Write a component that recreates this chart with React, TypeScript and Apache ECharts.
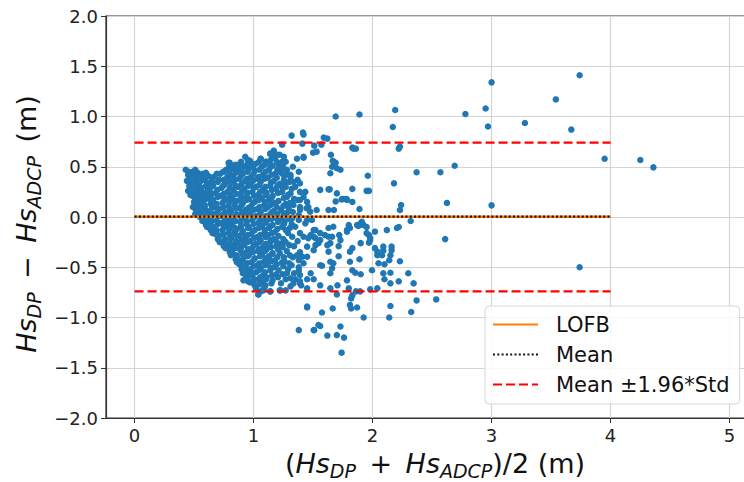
import React, { useEffect, useRef } from "react";
import * as echarts from "echarts";

const meanDiff = 0.003;
const upperLoA = 0.74;
const lowerLoA = -0.74;
const lineStartX = 0;
const lineEndX = 4;

const xTicks = [0, 1, 2, 3, 4, 5];
const legendNames = ["LOFB", "Mean", "Mean \u00b11.96*Std"];

const coreA: number[][] = [
  [0.43, 0.47], [0.45, 0.42], [0.44, 0.36], [0.46, 0.31], [0.45, 0.26], [0.47, 0.44],
  [0.49, 0.45], [0.48, 0.39], [0.5, 0.33], [0.48, 0.27], [0.49, 0.21], [0.5, 0.15], [0.49, 0.1],
  [0.53, 0.44], [0.52, 0.38], [0.54, 0.31], [0.53, 0.24], [0.52, 0.18], [0.54, 0.12], [0.53, 0.06], [0.55, 0.0], [0.51, 0.03],
  [0.57, 0.43], [0.58, 0.37], [0.56, 0.29], [0.58, 0.22], [0.57, 0.16], [0.59, 0.09], [0.56, 0.04], [0.58, -0.03], [0.6, -0.08],
  [0.62, 0.41], [0.61, 0.34], [0.63, 0.27], [0.62, 0.2], [0.64, 0.13], [0.61, 0.06], [0.63, 0.0], [0.62, -0.07], [0.64, -0.13], [0.65, 0.35],
  [0.67, 0.4], [0.66, 0.31], [0.68, 0.24], [0.66, 0.17], [0.68, 0.1], [0.67, 0.03], [0.69, -0.04], [0.66, -0.1], [0.68, -0.17], [0.7, -0.22],
];

const fillA: number[][] = [
  [0.455, 0.45], [0.46, 0.39], [0.47, 0.33], [0.465, 0.28], [0.47, 0.22],
  [0.51, 0.47], [0.515, 0.41], [0.51, 0.35], [0.52, 0.29], [0.51, 0.23], [0.515, 0.17], [0.52, 0.11], [0.515, 0.07],
  [0.555, 0.41], [0.55, 0.35], [0.56, 0.26], [0.555, 0.2], [0.55, 0.14], [0.56, 0.08], [0.57, 0.02], [0.57, -0.04],
  [0.6, 0.44], [0.595, 0.39], [0.6, 0.31], [0.605, 0.25], [0.6, 0.18], [0.59, 0.12], [0.6, 0.03], [0.605, -0.02], [0.61, -0.1],
  [0.645, 0.39], [0.64, 0.3], [0.65, 0.23], [0.645, 0.16], [0.65, 0.09], [0.64, 0.03], [0.65, -0.04], [0.645, -0.09], [0.655, -0.16],
  [0.69, 0.43], [0.7, 0.35], [0.695, 0.27], [0.7, 0.2], [0.69, 0.13], [0.7, 0.06], [0.695, 0.0], [0.7, -0.07], [0.69, -0.13], [0.7, -0.18], [0.715, -0.25],
];

const coreB: number[][] = [
  [0.72, 0.43], [0.71, 0.37], [0.73, 0.29], [0.72, 0.21], [0.74, 0.14], [0.71, 0.08], [0.73, 0.01], [0.72, -0.06], [0.74, -0.13], [0.71, -0.19], [0.73, -0.25], [0.75, -0.29],
  [0.77, 0.47], [0.78, 0.4], [0.76, 0.33], [0.78, 0.25], [0.77, 0.18], [0.79, 0.11], [0.76, 0.05], [0.78, -0.02], [0.77, -0.09], [0.79, -0.16], [0.76, -0.22], [0.78, -0.29], [0.8, -0.35],
  [0.8, 0.54], [0.82, 0.48], [0.83, 0.41], [0.81, 0.34], [0.83, 0.27], [0.82, 0.19], [0.84, 0.12], [0.81, 0.06], [0.83, -0.01], [0.82, -0.08], [0.84, -0.15], [0.81, -0.21], [0.83, -0.28], [0.82, -0.35], [0.85, -0.42],
  [0.87, 0.52], [0.86, 0.45], [0.88, 0.38], [0.87, 0.3], [0.89, 0.23], [0.86, 0.16], [0.88, 0.09], [0.87, 0.02], [0.89, -0.05], [0.86, -0.12], [0.88, -0.19], [0.87, -0.26], [0.89, -0.33], [0.86, -0.4], [0.88, -0.47], [0.9, -0.52],
  [0.93, 0.6], [0.92, 0.5], [0.91, 0.43], [0.93, 0.36], [0.92, 0.28], [0.94, 0.21], [0.91, 0.14], [0.93, 0.07], [0.92, 0.0], [0.94, -0.07], [0.91, -0.14], [0.93, -0.21], [0.92, -0.28], [0.94, -0.35], [0.91, -0.42], [0.93, -0.49], [0.92, -0.56], [0.94, -0.61],
];

const fillB: number[][] = [
  [0.745, 0.45], [0.75, 0.37], [0.745, 0.31], [0.75, 0.23], [0.755, 0.17], [0.745, 0.1], [0.75, 0.03], [0.755, -0.04], [0.75, -0.1], [0.745, -0.17], [0.75, -0.24], [0.765, -0.31],
  [0.795, 0.5], [0.8, 0.43], [0.795, 0.37], [0.8, 0.29], [0.805, 0.22], [0.795, 0.15], [0.8, 0.08], [0.805, 0.02], [0.8, -0.05], [0.795, -0.12], [0.805, -0.19], [0.8, -0.26], [0.795, -0.32], [0.81, -0.38],
  [0.845, 0.5], [0.85, 0.44], [0.845, 0.37], [0.85, 0.31], [0.855, 0.23], [0.845, 0.16], [0.85, 0.09], [0.855, 0.03], [0.85, -0.04], [0.845, -0.11], [0.855, -0.18], [0.85, -0.24], [0.845, -0.31], [0.855, -0.38], [0.86, -0.45],
  [0.895, 0.55], [0.9, 0.47], [0.895, 0.41], [0.9, 0.33], [0.905, 0.26], [0.895, 0.19], [0.9, 0.12], [0.905, 0.05], [0.9, -0.02], [0.895, -0.09], [0.905, -0.16], [0.9, -0.23], [0.895, -0.3], [0.905, -0.37], [0.9, -0.44], [0.905, -0.5], [0.91, -0.56],
  [0.95, 0.57], [0.945, 0.52], [0.95, 0.45], [0.945, 0.38], [0.955, 0.31], [0.95, 0.24], [0.945, 0.17], [0.955, 0.09], [0.95, 0.02], [0.945, -0.04], [0.955, -0.11], [0.95, -0.18], [0.945, -0.25], [0.955, -0.32], [0.95, -0.39], [0.945, -0.46], [0.955, -0.53], [0.95, -0.58], [0.955, -0.64],
];

const coreC: number[][] = [
  [0.97, 0.56], [0.96, 0.48], [0.98, 0.4], [0.97, 0.33], [0.99, 0.25], [0.96, 0.18], [0.98, 0.11], [0.97, 0.04], [0.99, -0.03], [0.96, -0.1], [0.98, -0.17], [0.97, -0.24], [0.99, -0.31], [0.96, -0.38], [0.98, -0.45], [0.97, -0.52], [0.99, -0.59], [0.97, -0.65],
  [1.02, 0.53], [1.01, 0.46], [1.03, 0.38], [1.02, 0.3], [1.04, 0.22], [1.01, 0.15], [1.03, 0.08], [1.02, 0.01], [1.04, -0.06], [1.01, -0.13], [1.03, -0.2], [1.02, -0.27], [1.04, -0.34], [1.01, -0.41], [1.03, -0.48], [1.02, -0.55], [1.04, -0.62], [1.01, -0.68], [1.04, -0.77],
  [1.06, 0.58], [1.07, 0.5], [1.08, 0.42], [1.06, 0.35], [1.08, 0.27], [1.07, 0.19], [1.09, 0.12], [1.06, 0.05], [1.08, -0.02], [1.07, -0.09], [1.09, -0.16], [1.06, -0.23], [1.08, -0.3], [1.07, -0.37], [1.09, -0.44], [1.06, -0.51], [1.08, -0.58], [1.07, -0.65], [1.09, -0.71],
  [1.14, 0.63], [1.11, 0.55], [1.13, 0.47], [1.12, 0.39], [1.14, 0.31], [1.11, 0.24], [1.13, 0.17], [1.12, 0.1], [1.14, 0.03], [1.11, -0.04], [1.13, -0.11], [1.12, -0.18], [1.14, -0.25], [1.11, -0.32], [1.13, -0.39], [1.12, -0.46], [1.14, -0.53], [1.11, -0.6], [1.14, -0.74],
];

const fillC: number[][] = [
  [0.995, 0.5], [1.0, 0.43], [0.995, 0.36], [1.0, 0.29], [1.005, 0.21], [0.995, 0.14], [1.0, 0.07], [1.005, 0.0], [1.0, -0.07], [0.995, -0.14], [1.005, -0.21], [1.0, -0.28], [0.995, -0.35], [1.005, -0.42], [1.0, -0.49], [0.995, -0.56], [1.005, -0.62], [1.02, -0.71],
  [1.045, 0.55], [1.05, 0.47], [1.045, 0.4], [1.05, 0.32], [1.055, 0.25], [1.045, 0.17], [1.05, 0.1], [1.055, 0.03], [1.05, -0.04], [1.045, -0.11], [1.055, -0.18], [1.05, -0.25], [1.045, -0.32], [1.055, -0.39], [1.05, -0.46], [1.045, -0.53], [1.055, -0.6], [1.05, -0.67], [1.06, -0.74],
  [1.095, 0.52], [1.1, 0.45], [1.095, 0.38], [1.1, 0.3], [1.105, 0.22], [1.095, 0.15], [1.1, 0.08], [1.105, 0.01], [1.1, -0.06], [1.095, -0.13], [1.105, -0.2], [1.1, -0.27], [1.095, -0.34], [1.105, -0.41], [1.1, -0.48], [1.095, -0.55], [1.105, -0.62], [1.1, -0.68],
  [1.15, 0.58], [1.145, 0.5], [1.15, 0.42], [1.145, 0.34], [1.155, 0.27], [1.15, 0.19], [1.145, 0.12], [1.155, 0.05], [1.15, -0.02], [1.145, -0.09], [1.155, -0.16], [1.15, -0.23], [1.145, -0.3], [1.155, -0.37], [1.15, -0.44], [1.145, -0.51], [1.155, -0.58], [1.15, -0.66],
];

const coreD: number[][] = [
  [1.17, 0.66], [1.18, 0.59], [1.16, 0.51], [1.18, 0.43], [1.17, 0.36], [1.19, 0.28], [1.16, 0.21], [1.18, 0.14], [1.17, 0.06], [1.19, -0.01], [1.16, -0.08], [1.18, -0.15], [1.17, -0.22], [1.19, -0.29], [1.16, -0.36], [1.18, -0.43], [1.17, -0.5], [1.19, -0.57], [1.16, -0.63],
  [1.22, 0.62], [1.21, 0.52], [1.23, 0.44], [1.22, 0.33], [1.24, 0.25], [1.21, 0.16], [1.23, 0.07], [1.22, -0.02], [1.24, -0.1], [1.21, -0.19], [1.23, -0.27], [1.22, -0.36], [1.24, -0.45], [1.21, -0.53], [1.23, -0.66], [1.22, -0.73],
  [1.27, 0.55], [1.28, 0.42], [1.26, 0.34], [1.29, 0.22], [1.27, 0.13], [1.28, 0.04], [1.26, -0.05], [1.29, -0.16], [1.27, -0.25], [1.28, -0.34], [1.26, -0.44], [1.29, -0.52], [1.27, -0.62],
  [1.33, 0.5], [1.32, 0.28], [1.34, 0.18], [1.33, 0.05], [1.32, -0.07], [1.34, -0.29], [1.33, -0.4], [1.32, -0.48], [1.35, -0.62],
  [1.38, 0.45], [1.37, 0.37], [1.39, 0.1], [1.38, -0.03], [1.37, -0.24], [1.39, -0.35], [1.38, -0.5],
];

const fillD: number[][] = [
  [1.195, 0.55], [1.2, 0.47], [1.195, 0.39], [1.2, 0.31], [1.205, 0.24], [1.195, 0.1], [1.2, 0.03], [1.205, -0.05], [1.2, -0.12], [1.195, -0.25], [1.205, -0.32], [1.2, -0.4], [1.195, -0.47], [1.205, -0.6],
  [1.25, 0.42], [1.245, 0.29], [1.255, 0.19], [1.25, 0.11], [1.245, -0.01], [1.255, -0.07], [1.25, -0.22], [1.245, -0.3], [1.255, -0.4], [1.25, -0.49], [1.245, -0.57],
  [1.3, 0.35], [1.305, 0.14], [1.3, -0.02], [1.305, -0.11], [1.3, -0.28], [1.305, -0.38], [1.3, -0.46], [1.31, -0.69],
];

const midScatter: number[][] = [
  [1.32, 0.81], [1.415, 0.84], [1.42, 0.82], [1.59, 0.79], [1.62, 0.78], [1.51, 0.71], [1.57, 0.72], [1.24, 0.72], [1.41, 0.73], [1.83, 0.69], [1.86, 0.68],
  [1.5, 0.64], [1.53, 0.65], [1.65, 0.62], [1.42, 0.59], [1.665, 0.56], [1.69, 0.54], [1.96, 0.41], [1.95, 0.26], [1.97, 0.26], [1.83, 0.28], [1.75, 0.18],
  [1.78, 0.18], [1.83, 0.15], [1.89, 0.08], [1.7, 0.235], [1.56, 0.27], [1.64, 0.275], [1.69, 0.155],
  [1.675, 0.55], [1.7, 0.485], [1.73, 0.47], [1.66, 0.5], [1.645, 0.435], [1.17, 0.63], [1.2, 0.62], [1.1, 0.55], [1.135, 0.55], [1.24, 0.55],
  [0.846, 0.52], [0.89, 0.485], [1.25, 0.485], [1.31, 0.42], [1.365, 0.58], [1.42, 0.6], [1.25, 0.53], [1.06, 0.58], [0.99, 0.53], [0.875, 0.52], [0.79, 0.54], [0.75, 0.45], [1.14, 0.63],
  [1.255, 0.6], [1.24, 0.5], [1.28, 0.47], [1.31, 0.4], [1.255, 0.37], [1.335, 0.35], [1.27, 0.3], [1.35, 0.3], [1.31, 0.235], [1.39, 0.25], [1.42, 0.2], [1.28, 0.2],
  [1.365, 0.17], [1.45, 0.15], [1.335, 0.12], [1.46, 0.1], [1.295, 0.087], [1.39, 0.07], [1.255, 0.037], [1.475, 0.053], [1.38, 0.02], [1.325, -0.013], [1.49, -0.03],
  [1.435, -0.063], [1.35, -0.097], [1.27, -0.13], [1.39, -0.16], [1.52, -0.13], [1.325, -0.196], [1.46, -0.21],
  [1.39, 0.335], [1.435, 0.25], [1.63, 0.275], [1.74, 0.175], [1.785, 0.17], [1.39, 0.17], [1.445, 0.087], [1.53, 0.07], [1.63, 0.07], [1.675, 0.07],
  [1.45, -0.03], [1.505, -0.13], [1.48, -0.18], [1.42, -0.196], [1.52, -0.21], [1.545, -0.26], [1.67, -0.097], [1.63, -0.11], [1.66, -0.196], [1.6, -0.18], [1.62, -0.28],
  [1.785, -0.13], [1.95, -0.16], [1.98, -0.21], [1.97, -0.255], [1.87, -0.08], [1.9, -0.063], [1.925, -0.08], [1.83, -0.31],
];

const rightScatter: number[][] = [
  [1.69, 1.0], [1.89, 1.02], [2.19, 1.065], [2.17, 0.895], [2.22, 0.68], [2.23, 0.7], [1.84, 0.68], [2.37, 0.445], [2.57, 0.445], [2.69, 0.51], [2.18, 0.335],
  [2.24, 0.12], [2.23, 0.07], [2.32, -0.04], [2.625, 0.14], [2.12, -0.13], [2.205, -0.11], [2.02, -0.146], [1.95, -0.1], [1.88, -0.09], [1.785, -0.146], [2.61, -0.22],
];

const farPoints: number[][] = [
  [2.78, 1.025], [3.0, 1.34], [2.95, 1.08], [2.97, 0.9], [3.28, 0.935], [3.54, 1.17], [3.74, 1.41], [3.67, 0.87], [3.95, 0.58], [4.25, 0.567], [4.36, 0.494], [3.0, 0.116], [3.74, -0.5],
];

const lowerScatter: number[][] = [
  [2.22, -0.1], [1.97, -0.18], [1.98, -0.23], [1.9, -0.26], [1.81, -0.345], [1.89, -0.42], [2.02, -0.31], [2.04, -0.345], [2.04, -0.38], [2.08, -0.38], [2.09, -0.335],
  [2.15, -0.38], [2.16, -0.33], [2.14, -0.43], [2.1, -0.47], [2.05, -0.46], [2.23, -0.44], [1.995, -0.53], [2.09, -0.56], [2.15, -0.555], [2.1, -0.62], [2.15, -0.66],
  [2.22, -0.64], [2.3, -0.56], [2.345, -0.66], [2.37, -0.83], [2.535, -0.82], [2.325, -0.945], [2.15, -0.885], [2.14, -1.0], [2.04, -0.71], [1.98, -0.72], [1.925, -1.0],
  [1.87, -0.9], [1.82, -0.91], [1.81, -0.875], [1.895, -0.74], [1.86, -0.74], [1.8, -0.71], [1.7, -0.77], [1.82, -0.81], [1.83, -0.78], [1.73, -1.09], [1.7, -1.175],
  [1.76, -1.2], [1.62, -1.18], [1.56, -1.085], [1.51, -1.125], [1.38, -1.125], [1.74, -1.35], [1.665, -0.91], [1.575, -0.95], [1.45, -0.9], [1.785, -0.63], [1.705, -0.68],
  [1.645, -0.71], [1.56, -0.68], [1.645, -0.56], [1.66, -0.51], [1.67, -0.46], [1.645, -0.445], [1.715, -0.39], [1.81, -0.445], [1.83, -0.53], [1.855, -0.555], [1.9, -0.57],
  [1.56, -0.48], [1.575, -0.485], [1.48, -0.56], [1.505, -0.62], [1.45, -0.62], [1.4, -0.68], [1.39, -0.66], [1.63, -0.345], [1.645, -0.26], [1.63, -0.196], [1.715, -0.29],
  [1.73, -0.23], [1.72, -0.18], [1.81, -0.11], [1.8, -0.08], [1.895, -0.08], [1.91, -0.047], [1.56, -0.16], [1.505, -0.196], [1.56, -0.23], [1.52, -0.28], [1.505, -0.33],
  [1.45, -0.295], [1.45, -0.395], [1.42, -0.46], [1.38, -0.43], [1.34, -0.56], [1.31, -0.61], [1.28, -0.56], [1.38, -0.53], [1.39, -0.577], [1.04, -0.77], [0.915, -0.63],
  [0.94, -0.6], [1.0, -0.66], [1.45, -0.89], [1.14, -0.74], [1.225, -0.73], [1.08, -0.73], [1.335, -0.66], [1.39, -0.64], [1.45, -0.71], [1.365, -0.38], [1.41, -0.395],
  [1.505, -1.125], [1.545, -1.075], [1.27, -0.73], [2.09, -0.295], [2.16, -0.295],
];

const FONT = "DejaVu Sans";

export default function App() {
  const ref = useRef<HTMLDivElement>(null);
  useEffect(() => {
    document.body.style.margin = "0";
    const chart = echarts.init(ref.current!, null, { renderer: "svg" });
    const points = [
      ...coreA, ...fillA, ...coreB, ...fillB, ...coreC, ...fillC, ...coreD, ...fillD,
      ...midScatter, ...rightScatter, ...farPoints, ...lowerScatter,
    ];
    const titleRich = {
      i: { fontStyle: "italic", fontSize: 27, fontFamily: FONT, color: "#111", lineHeight: 34 },
      s: { fontStyle: "italic", fontSize: 19, fontFamily: FONT, color: "#111", lineHeight: 26, verticalAlign: "bottom" },
    };
    chart.setOption({
      animation: false,
      backgroundColor: "#ffffff",
      grid: {
        left: 106, top: 16, right: -2, bottom: 64,
        outerBoundsMode: "none",
        containLabel: false,
        show: true, borderColor: "#333", borderWidth: 1.2,
      },
      legend: {
        data: legendNames,
        orient: "vertical",
        left: 485,
        top: 306,
        padding: [8, 10, 9, 7],
        itemWidth: 45,
        itemHeight: 14,
        itemGap: 9,
        backgroundColor: "rgba(255,255,255,0.85)",
        borderColor: "#d6d6d6",
        borderWidth: 1,
        borderRadius: 4,
        itemStyle: { opacity: 0 },
        textStyle: { fontFamily: FONT, fontSize: 21, color: "#111", padding: [0, 0, 0, 13] },
      },
      xAxis: {
        type: "value",
        min: -0.24,
        max: 5.138,
        name: "({i|Hs}{s|DP}\u2002+\u2002{i|Hs}{s|ADCP})/2 (m)",
        nameLocation: "middle",
        nameGap: 28,
        nameMoveOverlap: false,
        nameTextStyle: { fontFamily: FONT, fontSize: 27, color: "#111", lineHeight: 34, padding: [0, 0, 0, 18], rich: titleRich },
        axisLine: { show: true, onZero: false, lineStyle: { color: "#333", width: 1.2 } },
        axisTick: { show: true, length: 5, customValues: xTicks, lineStyle: { color: "#333" } },
        axisLabel: { customValues: xTicks, fontFamily: FONT, fontSize: 18, color: "#222", margin: 8 },
        splitLine: { show: true, lineStyle: { color: "#d4d4d4", width: 1.2 } },
      },
      yAxis: {
        type: "value",
        min: -2,
        max: 2,
        interval: 0.5,
        name: "{i|Hs}{s|DP}\u2002\u2212\u2002{i|Hs}{s|ADCP}\u2002(m)",
        nameLocation: "middle",
        nameGap: 58,
        nameTextStyle: { fontFamily: FONT, fontSize: 27, color: "#111", lineHeight: 34, padding: [0, 14, 0, 0], rich: titleRich },
        axisLine: { show: true, onZero: false, lineStyle: { color: "#333", width: 1.2 } },
        axisTick: { show: true, length: 5, lineStyle: { color: "#333" } },
        axisLabel: {
          fontFamily: FONT,
          fontSize: 18,
          color: "#222",
          margin: 8,
          formatter: (v: number) => v.toFixed(1).replace("-", "\u2212"),
        },
        splitLine: { show: true, lineStyle: { color: "#d4d4d4", width: 1.2 } },
      },
      series: [
        {
          type: "scatter",
          name: "points",
          data: points,
          symbolSize: 6.5,
          itemStyle: { color: "#1f77b4", opacity: 1 },
          z: 2,
          silent: true,
        },
        {
          type: "line",
          name: legendNames[0],
          data: [[lineStartX, meanDiff], [lineEndX, meanDiff]],
          symbol: "none",
          symbolSize: 0,
          lineStyle: { color: "#ff7f0e", width: 2.5 },
          itemStyle: { color: "#ff7f0e" },
          z: 3,
        },
        {
          type: "line",
          name: legendNames[1],
          data: [[lineStartX, meanDiff], [lineEndX, meanDiff]],
          symbol: "none",
          symbolSize: 0,
          lineStyle: { color: "#111", width: 2.3, type: [2, 2.3] },
          itemStyle: { color: "#111" },
          z: 4,
        },
        {
          type: "line",
          name: legendNames[2],
          data: [[lineStartX, upperLoA], [lineEndX, upperLoA]],
          symbol: "none",
          symbolSize: 0,
          lineStyle: { color: "#ff0000", width: 2.3, type: [9, 4] },
          itemStyle: { color: "#ff0000" },
          z: 4,
        },
        {
          type: "line",
          name: legendNames[2],
          data: [[lineStartX, lowerLoA], [lineEndX, lowerLoA]],
          symbol: "none",
          symbolSize: 0,
          lineStyle: { color: "#ff0000", width: 2.3, type: [9, 4] },
          itemStyle: { color: "#ff0000" },
          z: 4,
        },
      ],
    });
    return () => chart.dispose();
  }, []);
  return <div ref={ref} style={{ position: "fixed", left: 0, top: 0, width: 744, height: 482 }} />;
}
